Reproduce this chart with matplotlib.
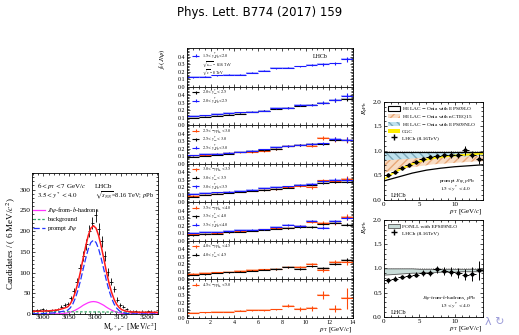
import matplotlib
matplotlib.use("Agg")
import matplotlib.pyplot as plt
from matplotlib.ticker import MultipleLocator, FormatStrFormatter
from matplotlib.patches import Patch
from matplotlib.lines import Line2D
import numpy as np

plt.rcParams['font.family'] = ['Liberation Serif', 'DejaVu Serif']
plt.rcParams['mathtext.fontset'] = 'stix'

# ---------------- left: dimuon mass fit ----------------
mass_centres = np.arange(2981, 3220, 6)
mass_counts = [8, 9, 10, 11, 9, 8, 10, 9, 12, 18, 22, 24, 38, 55, 78, 110, 140, 168,
               200, 220, 238, 205, 175, 140, 102, 78, 60, 34, 22, 18, 12, 8, 6, 7,
               5, 6, 5, 7, 6, 5]

curve_mass = [2978, 2990, 3000, 3010, 3020, 3030, 3040, 3047, 3052, 3057, 3062, 3067,
              3072, 3077, 3082, 3087, 3092, 3097, 3102, 3107, 3112, 3117, 3122, 3127,
              3132, 3137, 3142, 3147, 3152, 3160, 3170, 3180, 3190, 3200, 3210, 3222]
curve_prompt = [0.5, 0.8, 1.2, 1.8, 2.8, 4.5, 7, 9, 14.5, 24, 38.5, 57.5, 81, 108, 134,
                157, 172.5, 178, 172.5, 157, 134, 108, 81, 57.5, 38.5, 24, 14.1, 7.8,
                4.0, 1.5, 0.4, 0.1, 0, 0, 0, 0]
curve_fromb = [0, 0, 0, 0.1, 0.2, 0.4, 1.4, 2.8, 4.4, 6.6, 9.4, 12.8, 16.6, 21.0, 24.3,
               27.4, 29.3, 30, 29.3, 27.4, 24.3, 21.0, 16.6, 12.8, 9.4, 6.6, 4.4, 2.8,
               1.7, 0.7, 0.2, 0, 0, 0, 0, 0]
curve_bkg = [6.0, 5.9, 5.8, 5.7, 5.6, 5.6, 5.5, 5.4, 5.4, 5.3, 5.3, 5.3, 5.2, 5.2, 5.2,
             5.1, 5.1, 5.0, 5.0, 5.0, 4.9, 4.9, 4.8, 4.8, 4.8, 4.7, 4.7, 4.7, 4.6, 4.6,
             4.5, 4.4, 4.3, 4.2, 4.1, 4.0]

# ---------------- middle: f_b vs pT ----------------
pt_centres = np.arange(0.5, 14, 1.0)
fb_pPb_y1 = [0.125, 0.135, 0.15, 0.16, 0.16, 0.185, 0.21, 0.245, 0.255, 0.27, 0.29, 0.30, 0.31, 0.365]
fb_pp_y2 = [0.095, 0.11, 0.125, 0.14, 0.155, 0.175, 0.19, 0.22, 0.235, 0.26, 0.275, 0.30, 0.33, 0.345]
fb_pPb_y2 = [0.125, 0.13, 0.145, 0.16, 0.17, 0.18, 0.195, 0.225, 0.23, 0.265, 0.27, 0.30, 0.335, 0.395]
fb_Pbp_y3 = [0.11, 0.12, 0.13, 0.14, 0.15, 0.15, 0.17, 0.20, 0.235, 0.25, 0.24, 0.34, 0.32, 0.32]
fb_pp_y3 = [0.09, 0.105, 0.12, 0.135, 0.155, 0.165, 0.18, 0.195, 0.23, 0.25, 0.26, 0.265, 0.32, 0.31]
fb_pPb_y3 = [0.11, 0.125, 0.135, 0.145, 0.155, 0.175, 0.19, 0.22, 0.235, 0.25, 0.265, 0.27, 0.33, 0.32]
fb_Pbp_y4 = [0.085, 0.10, 0.115, 0.13, 0.14, 0.155, 0.165, 0.18, 0.20, 0.215, 0.20, 0.29, 0.28, 0.31]
fb_pp_y4 = [0.075, 0.095, 0.11, 0.125, 0.135, 0.15, 0.16, 0.175, 0.195, 0.225, 0.235, 0.255, 0.27, 0.27]
fb_pPb_y4 = [0.11, 0.12, 0.13, 0.14, 0.15, 0.165, 0.185, 0.20, 0.21, 0.235, 0.24, 0.28, 0.30, 0.30]
fb_Pbp_y5 = [0.085, 0.095, 0.10, 0.115, 0.125, 0.135, 0.15, 0.165, 0.175, 0.195, 0.255, 0.235, 0.24, 0.32]
fb_pp_y5 = [0.07, 0.085, 0.095, 0.11, 0.12, 0.13, 0.145, 0.16, 0.165, 0.18, 0.18, 0.22, 0.24, 0.21]
fb_pPb_y5 = [0.10, 0.115, 0.115, 0.125, 0.14, 0.145, 0.15, 0.18, 0.21, 0.195, 0.26, 0.175, 0.26, 0.30]
fb_Pbp_y6 = [0.075, 0.08, 0.09, 0.095, 0.105, 0.12, 0.13, 0.135, 0.165, 0.165, 0.20, 0.125, 0.23, 0.23]
fb_pp_y6 = [0.055, 0.065, 0.08, 0.09, 0.10, 0.115, 0.125, 0.135, 0.16, 0.135, 0.17, 0.145, 0.20, 0.26]
fb_Pbp_y7 = [0.065, 0.07, 0.075, 0.075, 0.095, 0.10, 0.10, 0.11, 0.16, 0.12, 0.125, 0.30, 0.12, 0.26]

err_pp = [0.003, 0.003, 0.003, 0.004, 0.004, 0.005, 0.006, 0.007, 0.008, 0.010, 0.012, 0.014, 0.017, 0.020]
err_pPb = [0.004, 0.004, 0.004, 0.005, 0.005, 0.006, 0.007, 0.008, 0.010, 0.012, 0.015, 0.018, 0.022, 0.030]
err_Pbp = [0.005, 0.005, 0.005, 0.006, 0.007, 0.008, 0.009, 0.011, 0.013, 0.015, 0.020, 0.025, 0.030, 0.040]
err_Pbp_y7 = [0.004, 0.004, 0.005, 0.005, 0.006, 0.007, 0.008, 0.010, 0.020, 0.025, 0.030, 0.055, 0.050, 0.140]
syst_fb = 0.012

# ---------------- right: nuclear modification factors ----------------
rpt = np.arange(0.5, 14, 1.0)
r_prompt = [0.51, 0.56, 0.64, 0.70, 0.77, 0.82, 0.87, 0.88, 0.90, 0.92, 0.91, 1.01, 0.92, 0.83]
r_prompt_err = [0.04, 0.04, 0.04, 0.04, 0.04, 0.05, 0.05, 0.05, 0.06, 0.07, 0.07, 0.09, 0.08, 0.10]
r_fromb = [0.75, 0.79, 0.82, 0.85, 0.87, 0.90, 0.91, 0.98, 0.94, 0.93, 0.90, 0.87, 0.88, 0.96]
r_fromb_err = [0.06, 0.05, 0.05, 0.05, 0.05, 0.06, 0.06, 0.07, 0.08, 0.09, 0.10, 0.11, 0.14, 0.20]

band_pt = [0, 1, 2, 3, 4, 5, 6, 7, 8, 9, 10, 11, 12, 13, 14]
eps09lo_lo = [0.38, 0.42, 0.46, 0.50, 0.54, 0.57, 0.60, 0.62, 0.64, 0.655, 0.67, 0.68, 0.69, 0.70, 0.71]
eps09lo_hi = [0.97, 0.97, 0.97, 0.97, 0.97, 0.97, 0.97, 0.97, 0.97, 0.97, 0.97, 0.97, 0.97, 0.97, 0.97]
ncteq_lo = [0.55, 0.58, 0.61, 0.64, 0.66, 0.68, 0.70, 0.72, 0.73, 0.74, 0.75, 0.76, 0.77, 0.78, 0.78]
ncteq_hi = [0.95, 0.95, 0.95, 0.95, 0.95, 0.95, 0.95, 0.95, 0.95, 0.95, 0.95, 0.95, 0.95, 0.95, 0.95]
eps09nlo_lo = [0.80, 0.81, 0.82, 0.83, 0.84, 0.85, 0.86, 0.86, 0.87, 0.87, 0.88, 0.88, 0.88, 0.89, 0.89]
eps09nlo_hi = [0.96, 0.96, 0.96, 0.96, 0.96, 0.96, 0.96, 0.96, 0.96, 0.96, 0.96, 0.96, 0.96, 0.96, 0.96]
cgc_lo = [0.41, 0.51, 0.59, 0.66, 0.72, 0.77, 0.81, 0.84, 0.86, 0.88, 0.89, 0.90, 0.91, 0.92, 0.93]
cgc_hi = [0.45, 0.55, 0.63, 0.70, 0.76, 0.81, 0.85, 0.88, 0.90, 0.92, 0.93, 0.94, 0.95, 0.96, 0.97]
fonll_lo = [0.87, 0.88, 0.89, 0.90, 0.91, 0.91, 0.92, 0.92, 0.93, 0.93, 0.93, 0.94, 0.94, 0.94, 0.94]
fonll_hi = [1.00, 1.00, 1.00, 1.00, 1.00, 0.99, 0.99, 0.99, 0.99, 0.99, 0.99, 0.99, 0.99, 0.99, 0.99]

BLUE = '#1a1aff'
ORANGE = '#ff4a0a'
W, H = 519, 335


def axes_px(x0, y0, x1, y1):
    return fig.add_axes([x0 / W, 1 - y1 / H, (x1 - x0) / W, (y1 - y0) / H])


def root_ticks(ax, size, pad=1.5):
    ax.tick_params(direction='in', which='both', top=True, right=True,
                   labelsize=size, pad=pad, length=2.5, width=0.5)
    ax.tick_params(which='minor', length=1.3)
    for s in ax.spines.values():
        s.set_linewidth(0.6)


fig = plt.figure(figsize=(W / 100, H / 100), dpi=100)
fig.text(0.5, 0.962, 'Phys. Lett. B774 (2017) 159', ha='center', va='center',
         fontsize=8.5, family='DejaVu Sans')

# ---- left panel ----
ax = axes_px(32, 173, 158, 314)
ax.errorbar(mass_centres, mass_counts, yerr=np.sqrt(mass_counts), xerr=3, fmt='none',
            ecolor='black', elinewidth=0.6)
total = np.array(curve_prompt) + np.array(curve_fromb) + np.array(curve_bkg)
ax.plot(curve_mass, curve_fromb, color='#ff33ff', lw=0.9, label=r'$J/\psi$-from-$b$-hadrons')
ax.plot(curve_mass, curve_bkg, color='#33aa66', lw=0.9, ls=(0, (2, 1.5)), label='background')
ax.plot(curve_mass, curve_prompt, color='#2233ff', lw=0.9, ls=(0, (5, 2)), label=r'prompt $J/\psi$')
ax.plot(curve_mass, total, color='#ff1a1a', lw=1.1)
ax.set_xlim(2978, 3222)
ax.set_ylim(0, 340)
ax.xaxis.set_major_locator(MultipleLocator(50))
ax.xaxis.set_minor_locator(MultipleLocator(10))
ax.yaxis.set_major_locator(MultipleLocator(50))
ax.yaxis.set_minor_locator(MultipleLocator(10))
root_ticks(ax, 5.3, pad=1)
ax.text(2988, 305, r'$6<p_{\rm T}<7$ GeV/$c$', fontsize=5)
ax.text(3100, 305, 'LHCb', fontsize=5)
ax.text(2988, 280, r'$3.5<y^*<4.0$', fontsize=5)
ax.text(3100, 280, r'$\sqrt{s_{\it NN}}$=8.16 TeV; $p$Pb', fontsize=4.6)
ax.legend(loc='upper left', bbox_to_anchor=(-0.01, 0.79), frameon=False, fontsize=4.6,
          handlelength=1.8, labelspacing=0.25, borderaxespad=0, handletextpad=0.4)
ax.set_ylabel(r'Candidates / ( 6 MeV/$c^2$)', fontsize=6.5, labelpad=1)
ax.set_xlabel(r'M$_{\mu^+\mu^-}$ [MeV/$c^2$]', fontsize=5.5, labelpad=0.3, loc='right')

# ---- middle panels ----
panels = [
    [(fb_pPb_y1, err_pPb, BLUE, r'$1.5<y^*_{p{\rm Pb}}<2.0$')],
    [(fb_pp_y2, err_pp, 'black', r'$2.0<y^*_{pp}<2.5$'),
     (fb_pPb_y2, err_pPb, BLUE, r'$2.0<y^*_{p{\rm Pb}}<2.5$')],
    [(fb_Pbp_y3, err_Pbp, ORANGE, r'$2.5<-y^*_{{\rm Pb}p}<3.0$'),
     (fb_pp_y3, err_pp, 'black', r'$2.5<y^*_{pp}<3.0$'),
     (fb_pPb_y3, err_pPb, BLUE, r'$2.5<y^*_{p{\rm Pb}}<3.0$')],
    [(fb_Pbp_y4, err_Pbp, ORANGE, r'$3.0<-y^*_{{\rm Pb}p}<3.5$'),
     (fb_pp_y4, err_pp, 'black', r'$3.0<y^*_{pp}<3.5$'),
     (fb_pPb_y4, err_pPb, BLUE, r'$3.0<y^*_{p{\rm Pb}}<3.5$')],
    [(fb_Pbp_y5, err_Pbp, ORANGE, r'$3.5<-y^*_{{\rm Pb}p}<4.0$'),
     (fb_pp_y5, err_pp, 'black', r'$3.5<y^*_{pp}<4.0$'),
     (fb_pPb_y5, err_pPb, BLUE, r'$3.5<y^*_{p{\rm Pb}}<4.0$')],
    [(fb_Pbp_y6, err_Pbp, ORANGE, r'$4.0<-y^*_{{\rm Pb}p}<4.5$'),
     (fb_pp_y6, err_pp, 'black', r'$4.0<y^*_{pp}<4.5$')],
    [(fb_Pbp_y7, err_Pbp_y7, ORANGE, r'$4.5<-y^*_{{\rm Pb}p}<5.0$')],
]
box_col = {BLUE: '#a8b0ff', 'black': '#b8b8b8', ORANGE: '#ffb898'}
top, ph = 48.2, 38.5
for i, series in enumerate(panels):
    ax = axes_px(187, top + i * ph, 353, top + (i + 1) * ph)
    for j, (vals, errs, col, lab) in enumerate(series):
        ax.bar(pt_centres, 2 * syst_fb, bottom=np.array(vals) - syst_fb, width=1.0,
               color=box_col[col], alpha=0.8, lw=0)
        ax.errorbar(pt_centres, vals, yerr=errs, xerr=0.5, fmt='none', ecolor=col,
                    elinewidth=0.8)
        ly = (0.41 - 0.115 * j) if i == 0 else (0.44 - 0.115 * j)
        ax.errorbar([0.75], [ly], yerr=[0.02], xerr=[0.3], fmt='none', ecolor=col,
                    elinewidth=0.8)
        ax.text(1.3, ly, lab, fontsize=3.0, va='center')
    if i == 0:
        ax.text(1.3, 0.295, r'$\sqrt{s_{NN}}$ = 8.16 TeV', fontsize=2.8, va='center')
        ax.text(1.3, 0.18, r'$\sqrt{s}$ = 8 TeV', fontsize=2.8, va='center')
        ax.text(10.6, 0.40, 'LHCb', fontsize=4.3, va='center')
        ax.set_ylabel(r'$f_b(J/\psi)$', fontsize=5, labelpad=1)
        ax.yaxis.set_label_coords(-0.12, 0.72)
    ax.set_xlim(0, 14)
    ax.set_ylim(0, 0.513)
    ax.set_yticks([0.0, 0.1, 0.2, 0.3, 0.4])
    ax.yaxis.set_minor_locator(MultipleLocator(0.02))
    ax.yaxis.set_major_formatter(FormatStrFormatter('%.1f'))
    ax.xaxis.set_major_locator(MultipleLocator(2))
    ax.xaxis.set_minor_locator(MultipleLocator(0.5))
    root_ticks(ax, 4.3)
    if i < len(panels) - 1:
        ax.tick_params(labelbottom=False)
    else:
        ax.set_xlabel(r'$p_{\rm T}$ [GeV/$c$]', fontsize=5, labelpad=0, loc='right')

# ---- right top: prompt R_pPb ----
ax = axes_px(384, 101.7, 483, 199.5)
ax.fill_between(band_pt, ncteq_lo, ncteq_hi, facecolor='#f8dcc4', edgecolor='#e8a878',
                hatch='////', lw=0)
ax.fill_between(band_pt, eps09nlo_lo, eps09nlo_hi, facecolor='#bfe2ee', edgecolor='#7ea8b8',
                hatch='\\\\\\\\', lw=0)
ax.plot(band_pt, eps09lo_lo, color='black', lw=0.9)
ax.plot(band_pt, eps09lo_hi, color='black', lw=0.9)
ax.fill_between(band_pt, cgc_lo, cgc_hi, color='#ffee00', lw=0)
ax.axhline(1.0, color='#888888', lw=0.6, ls=':')
ax.errorbar(rpt, r_prompt, yerr=r_prompt_err, xerr=0.5, fmt='o', ms=2, color='black',
            elinewidth=0.7)
h = [Patch(facecolor='white', edgecolor='black', lw=0.8),
     Patch(facecolor='#f8dcc4', edgecolor='#e8a878', hatch='////', lw=0),
     Patch(facecolor='#bfe2ee', edgecolor='#7ea8b8', hatch='\\\\\\\\', lw=0),
     Patch(facecolor='#ffee00', lw=0),
     Line2D([], [], color='black', marker='+', ms=5, lw=0)]
ax.legend(h, [r'HELAC $-$ Onia with EPS09LO', r'HELAC $-$ Onia with nCTEQ15',
              r'HELAC $-$ Onia with EPS09NLO', 'CGC', 'LHCb (8.16TeV)'],
          loc='upper left', frameon=False, fontsize=3.9, handlelength=2.2,
          handleheight=0.9, labelspacing=0.15, borderaxespad=0.3, handletextpad=0.4)
ax.text(12.8, 0.36, r'prompt $J/\psi$, $p$Pb', fontsize=3.8, ha='right')
ax.text(12.3, 0.17, r'$1.5<y^*<4.0$', fontsize=3.8, ha='right')
ax.text(1.0, 0.06, 'LHCb', fontsize=4.5)

# ---- right bottom: from-b R_pPb ----
ax2 = axes_px(384, 220, 483, 316.7)
ax2.fill_between(band_pt, fonll_lo, fonll_hi, facecolor='#c8dcd8', edgecolor='#555555', lw=0.6)
ax2.axhline(1.0, color='#888888', lw=0.6, ls=':')
ax2.errorbar(rpt, r_fromb, yerr=r_fromb_err, xerr=0.5, fmt='o', ms=2, color='black',
             elinewidth=0.7)
h2 = [Patch(facecolor='#c8dcd8', edgecolor='#555555', lw=0.6),
      Line2D([], [], color='black', marker='+', ms=5, lw=0)]
ax2.legend(h2, ['FONLL with EPS09NLO', 'LHCb (8.16TeV)'], loc='upper left', frameon=False,
           fontsize=3.9, handlelength=2.2, handleheight=0.9, labelspacing=0.15,
           borderaxespad=0.3, handletextpad=0.4)
ax2.text(13.0, 0.36, r'$J/\psi$-from-$b$-hadrons, $p$Pb', fontsize=3.8, ha='right')
ax2.text(12.3, 0.17, r'$1.5<y^*<4.0$', fontsize=3.8, ha='right')
ax2.text(1.0, 0.06, 'LHCb', fontsize=4.5)

for a in (ax, ax2):
    a.set_xlim(0, 14)
    a.set_ylim(0, 2.0)
    a.xaxis.set_major_locator(MultipleLocator(5))
    a.xaxis.set_minor_locator(MultipleLocator(1))
    a.yaxis.set_major_locator(MultipleLocator(0.5))
    a.yaxis.set_minor_locator(MultipleLocator(0.1))
    a.yaxis.set_major_formatter(FormatStrFormatter('%.1f'))
    root_ticks(a, 5)
    a.set_ylabel(r'$R_{p{\rm Pb}}$', fontsize=5, labelpad=1)
    a.yaxis.set_label_coords(-0.13, 0.93)
    a.set_xlabel(r'$p_{\rm T}$ [GeV/$c$]', fontsize=5, labelpad=0, loc='right')

# beamer navigation glyphs
fig.text(0.935, 0.03, '\u03bb \u21bb', fontsize=8, color='#9a9ad8', family='DejaVu Sans')

fig.savefig('out.png', dpi=100)
